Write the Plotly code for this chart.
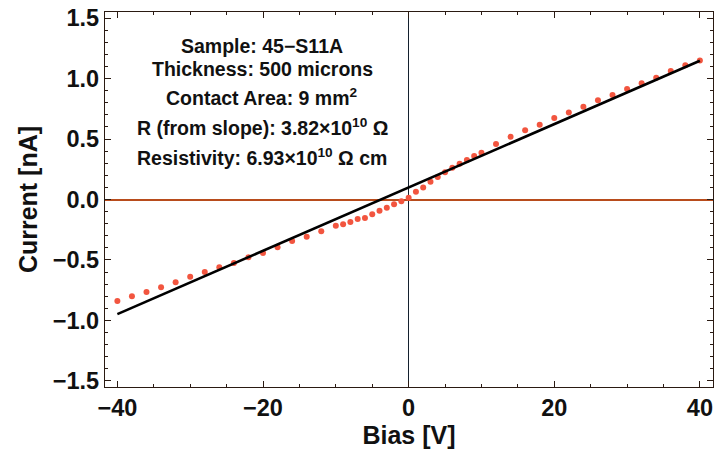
import numpy as np
import plotly.graph_objects as go

# Measured I-V data (Bias in V, Current in nA)
bias = [-40, -38, -36, -34, -32, -30, -28, -26, -24, -22, -20, -18, -16, -14, -12,
        -10, -9, -8, -7, -6, -5, -4, -3, -2, -1, 0, 1, 2, 3, 4, 5, 6, 7, 8, 9, 10,
        12, 14, 16, 18, 20, 22, 24, 26, 28, 30, 32, 34, 36, 38, 40]
current = [-0.84, -0.80, -0.765, -0.726, -0.684, -0.638, -0.60, -0.56, -0.525, -0.478,
           -0.443, -0.395, -0.343, -0.307, -0.263,
           -0.216, -0.205, -0.186, -0.161, -0.153, -0.122, -0.092, -0.068, -0.040, -0.015,
           0.015, 0.065, 0.10, 0.147, 0.186, 0.225, 0.263, 0.296, 0.326, 0.36, 0.387,
           0.459, 0.519, 0.572, 0.618, 0.674, 0.72, 0.767, 0.82, 0.864, 0.913, 0.96,
           1.007, 1.062, 1.109, 1.15]

# Linear fit parameters
fit_slope = 0.02618   # nA/V  (R = 3.82e10 ohm)
fit_intercept = 0.0995  # nA
fit_range = [-40, 40]

info_lines = [
    "Sample: 45\u2212S11A",
    "Thickness: 500 microns",
    "Contact Area: 9 mm<sup>2</sup>",
    "R (from slope): 3.82\u00d710<sup>10</sup> \u03a9",
    "Resistivity: 6.93\u00d710<sup>10</sup> \u03a9 cm",
]
info_y = [1.27, 1.08, 0.85, 0.60, 0.35]

x_ticks = [-40, -20, 0, 20, 40]
y_ticks = [-1.5, -1.0, -0.5, 0.0, 0.5, 1.0, 1.5]
y_ticktext = ["\u22121.5", "\u22121.0", "\u22120.5", "0.0", "0.5", "1.0", "1.5"]
x_ticktext = ["\u221240", "\u221220", "0", "20", "40"]

fit_x = np.array(fit_range, dtype=float)
fit_y = fit_slope * fit_x + fit_intercept

font_family = "Liberation Sans, Arial, sans-serif"
frame_color = "#2a1a12"

fig = go.Figure()
fig.add_trace(go.Scatter(x=bias, y=current, mode="markers",
                         marker=dict(color="#F2553F", size=6, line=dict(width=0)),
                         showlegend=False))
fig.add_trace(go.Scatter(x=fit_x, y=fit_y, mode="lines",
                         line=dict(color="black", width=2.6), showlegend=False))

for txt, yy in zip(info_lines, info_y):
    fig.add_annotation(x=-20.1, y=yy, text="<b>" + txt + "</b>", showarrow=False,
                       font=dict(family=font_family, size=19.5, color="#111111"),
                       xanchor="center", yanchor="middle")

axis_common = dict(
    showline=True, linecolor=frame_color, linewidth=1.2, mirror="allticks",
    ticks="inside", ticklen=6, tickwidth=1, tickcolor=frame_color,
    showgrid=False,
    tickfont=dict(family=font_family, size=23.5, color="#111111"),
)

fig.update_xaxes(range=[-41.7, 41.8], tickvals=x_ticks,
                 ticktext=["<b>" + t + "</b>" for t in x_ticktext],
                 zeroline=True, zerolinecolor="#14202e", zerolinewidth=1.2,
                 minor=dict(dtick=5, ticklen=3, ticks="inside", tickcolor=frame_color),
                 title=dict(text="<b>Bias [V]</b>", standoff=4,
                            font=dict(family=font_family, size=25, color="#111111")),
                 **axis_common)
fig.update_yaxes(range=[-1.55, 1.55], tickvals=y_ticks,
                 ticktext=["<b>" + t + "</b>" for t in y_ticktext],
                 zeroline=True, zerolinecolor="#B84C1C", zerolinewidth=1.5,
                 minor=dict(dtick=0.1, ticklen=3, ticks="inside", tickcolor=frame_color),
                 title=dict(text="<b>Current [nA]</b>", standoff=8,
                            font=dict(family=font_family, size=25, color="#111111")),
                 **axis_common)

fig.update_layout(width=714, height=457, margin=dict(l=105, r=1, t=12, b=70),
                  plot_bgcolor="white", paper_bgcolor="white")

fig.write_html("out.html")
